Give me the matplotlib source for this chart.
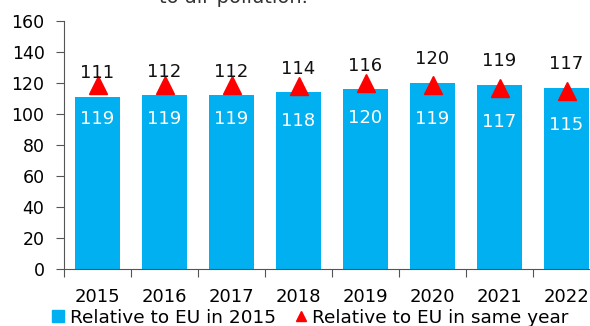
import matplotlib.pyplot as plt
from matplotlib.lines import Line2D
import numpy as np

years = ['2015', '2016', '2017', '2018', '2019', '2020', '2021', '2022']
rel_eu_2015 = [111, 112, 112, 114, 116, 120, 119, 117]
rel_eu_same_year = [119, 119, 119, 118, 120, 119, 117, 115]

blue = '#00B0F0'
red = '#FF0000'

plt.rcParams['font.family'] = 'DejaVu Sans'

fig = plt.figure(figsize=(5.9, 3.26), dpi=100)
ax = fig.add_axes([64 / 590, 57 / 326, 536 / 590, 248 / 326])

x = np.arange(len(years))
ax.bar(x, rel_eu_2015, width=0.67, color=blue, zorder=2)
ax.plot(x, rel_eu_same_year, linestyle='none', marker='^', markersize=12.5,
        color=red, zorder=3)

# bar values above the bars, triangle values in white inside the bars
for xi, b, t in zip(x, rel_eu_2015, rel_eu_same_year):
    ax.annotate(str(b), (xi, b), xytext=(0, 17), textcoords='offset points',
                ha='center', va='center', fontsize=13, color='#111111')
    ax.annotate(str(t), (xi, t), xytext=(0, -25), textcoords='offset points',
                ha='center', va='center', fontsize=13, color='white')

ax.set_xlim(-0.5, 7.5)
ax.set_ylim(0, 160)
ax.set_yticks(range(0, 161, 20))

# tick marks between categories, labels centred under the bars
ax.set_xticks(np.arange(-0.5, 8, 1))
ax.set_xticklabels([])
ax.set_xticks(x, minor=True)
ax.set_xticklabels(years, minor=True)
ax.tick_params(axis='x', which='major', length=6, color='#555555')
ax.tick_params(axis='x', which='minor', length=0, pad=14, labelsize=13)
ax.tick_params(axis='y', length=6, pad=8, labelsize=12.5, color='#555555')

for s in ['top', 'right']:
    ax.spines[s].set_visible(False)
for s in ['left', 'bottom']:
    ax.spines[s].set_color('#555555')

handles = [
    Line2D([], [], linestyle='none', marker='s', markersize=8, color=blue),
    Line2D([], [], linestyle='none', marker='^', markersize=6.5, color=red),
]
fig.legend(handles, ['Relative to EU in 2015', 'Relative to EU in same year'],
           loc='center', bbox_to_anchor=(0.527, 0.026), ncol=2, frameon=False,
           fontsize=13.3, handlelength=0.5, handletextpad=0.35,
           columnspacing=1.1, borderpad=0)

# last line of the caption running above the plot area
fig.text(0.395, 1 - 3 / 326, 'to air pollution.', ha='center', va='baseline',
         fontsize=14, color='#333333')

fig.savefig('out.png', dpi=100)
